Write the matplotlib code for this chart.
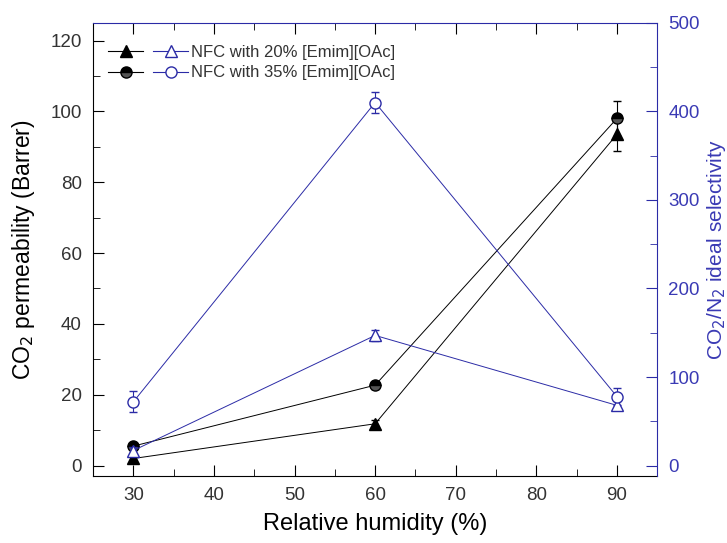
import numpy as np
import matplotlib.pyplot as plt
from matplotlib.lines import Line2D
from matplotlib.legend_handler import HandlerTuple
from matplotlib.ticker import MultipleLocator

plt.rcParams['font.family'] = ['Liberation Sans', 'DejaVu Sans']

# ── Data ─────────────────────────────────────────────────────────
rh = [30, 60, 90]

# CO2 permeability (Barrer), left axis
perm_20 = [2.0, 11.8, 93.5]
perm_20_err = [0.8, 1.0, 4.8]
perm_35 = [5.5, 22.7, 98.0]
perm_35_err = [0.8, 1.0, 5.0]

# CO2/N2 ideal selectivity, right axis
sel_20 = [17, 147, 68]
sel_20_err = [4, 6, 5]
sel_35 = [72, 410, 78]
sel_35_err = [12, 12, 10]

labels = ["NFC with 20% [Emim][OAc]", "NFC with 35% [Emim][OAc]"]

blue = "#2b2ba6"
txt_blue = "#3a3ab4"
grey = "#333333"

# ── Figure ───────────────────────────────────────────────────────
fig = plt.figure(figsize=(7.27, 5.43), dpi=100)
ax = fig.add_axes([0.128, 0.123, 0.776, 0.835])
ax2 = ax.twinx()

ax.errorbar(rh, perm_20, yerr=perm_20_err, color="black", lw=0.7,
            marker="^", ms=9, mfc="black", mec="black",
            capsize=3, elinewidth=0.8, zorder=3)
ax.errorbar(rh, perm_35, yerr=perm_35_err, color="black", lw=0.7,
            marker="o", ms=8, mfc="black", mec="black",
            fillstyle="top", markerfacecoloralt="#555555",
            capsize=3, elinewidth=0.8, zorder=3)

ax2.errorbar(rh, sel_20, yerr=sel_20_err, color=blue, lw=0.7,
             marker="^", ms=9, mfc="white", mec=blue,
             capsize=3, elinewidth=0.8, zorder=3)
ax2.errorbar(rh, sel_35, yerr=sel_35_err, color=blue, lw=0.7,
             marker="o", ms=8, mfc="white", mec=blue,
             capsize=3, elinewidth=0.8, zorder=3)

# ── Axes ─────────────────────────────────────────────────────────
ax.set_xlim(25, 95)
ax.set_ylim(-3, 125)
ax2.set_ylim(-12, 500)

ax.xaxis.set_major_locator(MultipleLocator(10))
ax.xaxis.set_minor_locator(MultipleLocator(5))
ax.yaxis.set_major_locator(MultipleLocator(20))
ax.yaxis.set_minor_locator(MultipleLocator(10))
ax2.yaxis.set_major_locator(MultipleLocator(100))
ax2.yaxis.set_minor_locator(MultipleLocator(50))

ax.tick_params(axis="both", which="major", direction="in", length=8,
               labelsize=13.5, labelcolor=grey, top=True, pad=8)
ax.tick_params(axis="both", which="minor", direction="in", length=5, top=True)
ax.tick_params(axis="x", which="both", top=True, colors="black", labelcolor=grey)
ax2.tick_params(axis="y", which="major", direction="in", length=8,
                labelsize=13.5, colors=blue, labelcolor=txt_blue, pad=8)
ax2.tick_params(axis="y", which="minor", direction="in", length=5, colors=blue)

ax2.spines["right"].set_color(blue)
ax2.spines["top"].set_color(blue)
ax.spines["top"].set_visible(False)
ax.spines["right"].set_visible(False)
ax2.spines["left"].set_visible(False)
ax2.spines["bottom"].set_visible(False)

ax.set_xlabel("Relative humidity (%)", fontsize=17, color="black", labelpad=6)
ax.set_ylabel("CO$_2$ permeability (Barrer)", fontsize=16.5, color="black", labelpad=10)
ax2.set_ylabel("CO$_2$/N$_2$ ideal selectivity", fontsize=15, color=txt_blue, labelpad=4)

# ── Legend ───────────────────────────────────────────────────────
h20 = (Line2D([], [], color="black", lw=0.8, marker="^", ms=9, mfc="black"),
       Line2D([], [], color=blue, lw=0.8, marker="^", ms=9, mfc="white", mec=blue))
h35 = (Line2D([], [], color="black", lw=0.8, marker="o", ms=8, mfc="black",
              fillstyle="top", markerfacecoloralt="#555555"),
       Line2D([], [], color=blue, lw=0.8, marker="o", ms=8, mfc="white", mec=blue))
ax.legend([h20, h35], labels, handler_map={tuple: HandlerTuple(ndivide=None, pad=0.6)},
          loc="upper left", bbox_to_anchor=(0.0, 0.985), frameon=False,
          fontsize=12, handlelength=4.8, handletextpad=0.2, labelspacing=0.35,
          labelcolor=grey)

fig.savefig("out.png", dpi=100)
